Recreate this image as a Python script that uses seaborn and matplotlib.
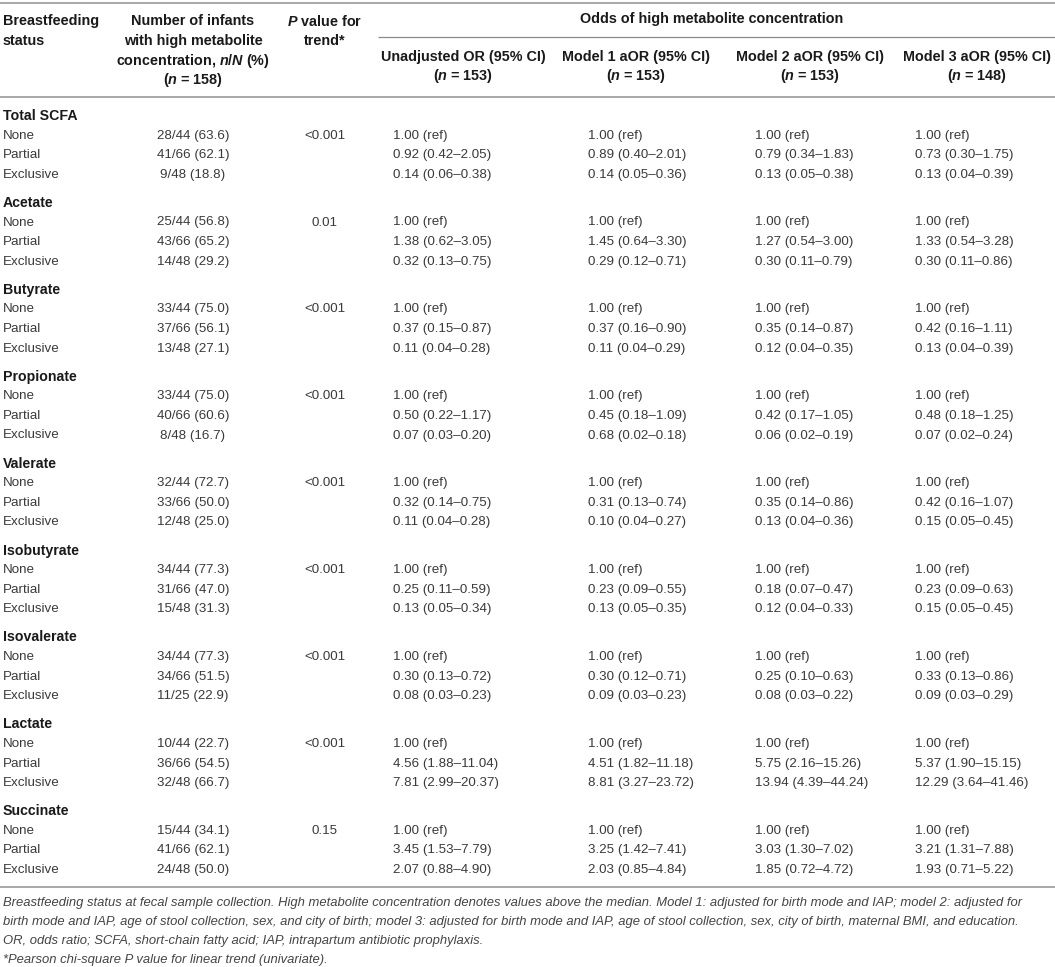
import matplotlib
matplotlib.use("Agg")
import matplotlib.pyplot as plt
import seaborn as sns

sns.set_theme(style="white")
plt.rcParams['font.family'] = ['Liberation Sans', 'DejaVu Sans']
plt.rcParams['mathtext.fontset'] = 'custom'
plt.rcParams['mathtext.it'] = 'Liberation Sans:italic:bold'
plt.rcParams['mathtext.rm'] = 'Liberation Sans:bold'
plt.rcParams['mathtext.bf'] = 'Liberation Sans:bold'

# ---------------- data ----------------
metabolites = ["Total SCFA", "Acetate", "Butyrate", "Propionate", "Valerate",
               "Isobutyrate", "Isovalerate", "Lactate", "Succinate"]
statuses = ["None", "Partial", "Exclusive"]

high_counts = [[28, 41, 9], [25, 43, 14], [33, 37, 13], [33, 40, 8], [32, 33, 12],
               [34, 31, 15], [34, 34, 11], [10, 36, 32], [15, 41, 24]]
group_totals = [[44, 66, 48], [44, 66, 48], [44, 66, 48], [44, 66, 48], [44, 66, 48],
                [44, 66, 48], [44, 66, 25], [44, 66, 48], [44, 66, 48]]
percents = [["63.6", "62.1", "18.8"], ["56.8", "65.2", "29.2"], ["75.0", "56.1", "27.1"],
            ["75.0", "60.6", "16.7"], ["72.7", "50.0", "25.0"], ["77.3", "47.0", "31.3"],
            ["77.3", "51.5", "22.9"], ["22.7", "54.5", "66.7"], ["34.1", "62.1", "50.0"]]
p_trend = ["<0.001", "0.01", "<0.001", "<0.001", "<0.001", "<0.001", "<0.001", "<0.001", "0.15"]

reference_label = "1.00 (ref)"
unadjusted_or = [["0.92 (0.42–2.05)", "0.14 (0.06–0.38)"],
                 ["1.38 (0.62–3.05)", "0.32 (0.13–0.75)"],
                 ["0.37 (0.15–0.87)", "0.11 (0.04–0.28)"],
                 ["0.50 (0.22–1.17)", "0.07 (0.03–0.20)"],
                 ["0.32 (0.14–0.75)", "0.11 (0.04–0.28)"],
                 ["0.25 (0.11–0.59)", "0.13 (0.05–0.34)"],
                 ["0.30 (0.13–0.72)", "0.08 (0.03–0.23)"],
                 ["4.56 (1.88–11.04)", "7.81 (2.99–20.37)"],
                 ["3.45 (1.53–7.79)", "2.07 (0.88–4.90)"]]
model1_aor = [["0.89 (0.40–2.01)", "0.14 (0.05–0.36)"],
              ["1.45 (0.64–3.30)", "0.29 (0.12–0.71)"],
              ["0.37 (0.16–0.90)", "0.11 (0.04–0.29)"],
              ["0.45 (0.18–1.09)", "0.68 (0.02–0.18)"],
              ["0.31 (0.13–0.74)", "0.10 (0.04–0.27)"],
              ["0.23 (0.09–0.55)", "0.13 (0.05–0.35)"],
              ["0.30 (0.12–0.71)", "0.09 (0.03–0.23)"],
              ["4.51 (1.82–11.18)", "8.81 (3.27–23.72)"],
              ["3.25 (1.42–7.41)", "2.03 (0.85–4.84)"]]
model2_aor = [["0.79 (0.34–1.83)", "0.13 (0.05–0.38)"],
              ["1.27 (0.54–3.00)", "0.30 (0.11–0.79)"],
              ["0.35 (0.14–0.87)", "0.12 (0.04–0.35)"],
              ["0.42 (0.17–1.05)", "0.06 (0.02–0.19)"],
              ["0.35 (0.14–0.86)", "0.13 (0.04–0.36)"],
              ["0.18 (0.07–0.47)", "0.12 (0.04–0.33)"],
              ["0.25 (0.10–0.63)", "0.08 (0.03–0.22)"],
              ["5.75 (2.16–15.26)", "13.94 (4.39–44.24)"],
              ["3.03 (1.30–7.02)", "1.85 (0.72–4.72)"]]
model3_aor = [["0.73 (0.30–1.75)", "0.13 (0.04–0.39)"],
              ["1.33 (0.54–3.28)", "0.30 (0.11–0.86)"],
              ["0.42 (0.16–1.11)", "0.13 (0.04–0.39)"],
              ["0.48 (0.18–1.25)", "0.07 (0.02–0.24)"],
              ["0.42 (0.16–1.07)", "0.15 (0.05–0.45)"],
              ["0.23 (0.09–0.63)", "0.15 (0.05–0.45)"],
              ["0.33 (0.13–0.86)", "0.09 (0.03–0.29)"],
              ["5.37 (1.90–15.15)", "12.29 (3.64–41.46)"],
              ["3.21 (1.31–7.88)", "1.93 (0.71–5.22)"]]

header_status = ["Breastfeeding", "status"]
header_count = ["Number of infants", "with high metabolite",
                r"concentration, $n$/$N$ (%)", r"($n$ = 158)"]
header_p = [r"$P$ value for", "trend*"]
header_span = "Odds of high metabolite concentration"
header_models = [["Unadjusted OR (95% CI)", r"($n$ = 153)"],
                 ["Model 1 aOR (95% CI)", r"($n$ = 153)"],
                 ["Model 2 aOR (95% CI)", r"($n$ = 153)"],
                 ["Model 3 aOR (95% CI)", r"($n$ = 148)"]]
footnotes = [
    "Breastfeeding status at fecal sample collection. High metabolite concentration denotes values above the median. Model 1: adjusted for birth mode and IAP; model 2: adjusted for",
    "birth mode and IAP, age of stool collection, sex, and city of birth; model 3: adjusted for birth mode and IAP, age of stool collection, sex, city of birth, maternal BMI, and education.",
    "OR, odds ratio; SCFA, short-chain fatty acid; IAP, intrapartum antibiotic prophylaxis.",
    "*Pearson chi-square P value for linear trend (univariate).",
]

# ---------------- layout ----------------
W, H = 1055, 967
fig = plt.figure(figsize=(W / 100, H / 100), dpi=100)
ax = fig.add_axes([0, 0, 1, 1])
ax.set_xlim(0, W)
ax.set_ylim(H, 0)
ax.axis("off")

hdr = dict(fontsize=10.4, fontweight="bold", color="#1a1a1a", family=["Liberation Sans"])
grp = dict(fontsize=10.2, fontweight="bold", color="#1a1a1a", family=["Liberation Sans"])
body = dict(fontsize=9.6, fontweight="normal", color="#3a3a3a", family=["Liberation Sans"])
foot = dict(fontsize=9.4, fontstyle="italic", fontweight="normal", color="#444444",
            family=["Liberation Sans"])
line_c = "#a0a0a0"

# rules
ax.hlines([3, 97, 887], 0, W, color=line_c, lw=1.3)
ax.hlines(37, 378, W, color="#8a8a8a", lw=0.9)

# header
hy = [21, 41, 61, 80]
x_status, x_count, x_p = 3, 193, 325
model_centers = [463, 636, 810, 977]
model_left = [393, 588, 755, 915]
for i, t in enumerate(header_status):
    ax.text(x_status, hy[i], t, ha="left", va="center", **hdr)
for i, t in enumerate(header_count):
    ax.text(x_count, hy[i], t, ha="center", va="center", **hdr)
for i, t in enumerate(header_p):
    ax.text(x_p, hy[i], t, ha="center", va="center", **hdr)
ax.text(712, 19, header_span, ha="center", va="center", **hdr)
for c, (l1, l2) in zip(model_centers, header_models):
    ax.text(c, 57, l1, ha="center", va="center", **hdr)
    ax.text(c, 76, l2, ha="center", va="center", **hdr)

# body
y0, gstep, rstep = 116, 86.9, 19.6
models = [unadjusted_or, model1_aor, model2_aor, model3_aor]
for g, name in enumerate(metabolites):
    yg = y0 + g * gstep
    ax.text(x_status, yg, name, ha="left", va="center", **grp)
    for s, st in enumerate(statuses):
        yr = yg + (s + 1) * rstep
        ax.text(x_status, yr, st, ha="left", va="center", **body)
        ax.text(x_count, yr, f"{high_counts[g][s]}/{group_totals[g][s]} ({percents[g][s]})",
                ha="center", va="center", **body)
        if s == 0:
            ax.text(x_p, yr, p_trend[g], ha="center", va="center", **body)
        for m, xl in zip(models, model_left):
            txt = reference_label if s == 0 else m[g][s - 1]
            ax.text(xl, yr, txt, ha="left", va="center", **body)

# footnotes
for i, t in enumerate(footnotes):
    ax.text(3, 903 + i * 19, t, ha="left", va="center", **foot)

fig.savefig("out.png", dpi=100, facecolor="white")
